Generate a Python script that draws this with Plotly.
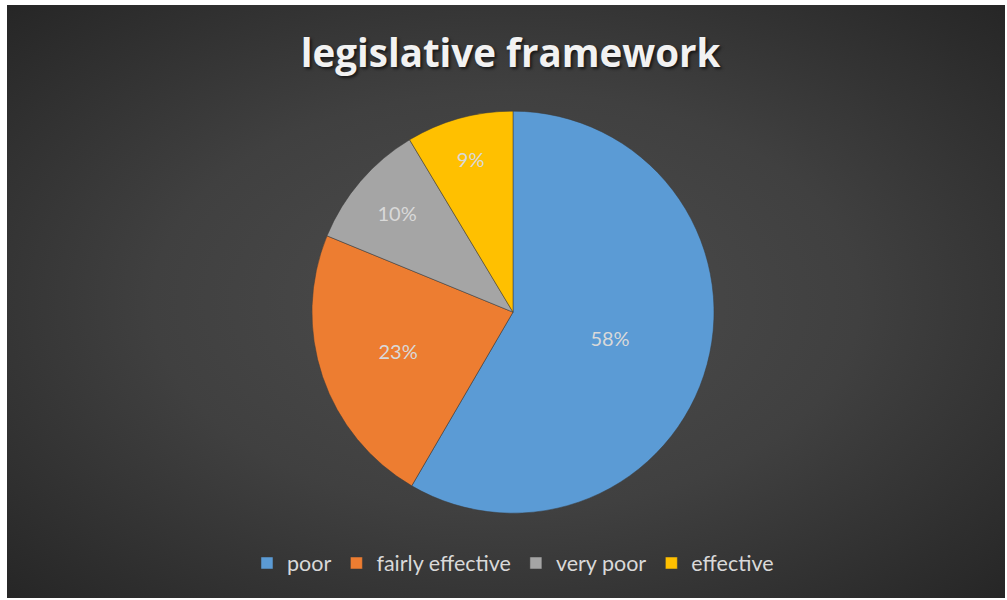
import plotly.graph_objects as go

categories = ["poor", "fairly effective", "very poor", "effective"]
shares = [58.4, 22.8, 10.2, 8.6]
colors = ["#5b9bd5", "#ed7d31", "#a5a5a5", "#ffc000"]
title_text = "legislative framework"

fig = go.Figure()

# background with radial gradient (extended so the gradient reaches the corners)
ext = 0.207
fig.add_trace(go.Scatter(
    x=[-ext, 1 + ext, 1 + ext, -ext, -ext], y=[-ext, -ext, 1 + ext, 1 + ext, -ext],
    mode="lines", line=dict(width=0),
    fill="toself",
    fillgradient=dict(type="radial", colorscale=[[0, "#4d4d4d"], [0.5, "#404040"], [1, "#262626"]]),
    hoverinfo="skip", showlegend=False,
))

fig.add_trace(go.Pie(
    labels=categories, values=shares,
    sort=False, direction="clockwise", rotation=0,
    marker=dict(colors=colors, line=dict(color="#3a3a3a", width=0.5)),
    texttemplate="%{percent:.0%}",
    textposition="inside",
    insidetextorientation="horizontal",
    textfont=dict(family="Lato", size=20, color="#d9d9d9"),
    domain=dict(x=[0.257, 0.757], y=[0.143, 0.821]),
    showlegend=True,
))

fig.update_layout(
    width=1007, height=600,
    margin=dict(l=7, r=2, t=5, b=2),
    paper_bgcolor="white",
    plot_bgcolor="rgba(0,0,0,0)",
    xaxis=dict(range=[0, 1], visible=False, fixedrange=True),
    yaxis=dict(range=[0, 1], visible=False, fixedrange=True),
    title=dict(
        text=title_text, x=0.507, xanchor="center", y=0.91, yanchor="middle",
        font=dict(family="Open Sans", size=38.5, color="#f2f2f2", weight="bold",
                  shadow="2px 2px 3px rgba(0,0,0,0.6)"),
    ),
    legend=dict(
        orientation="h", x=0.507, xanchor="center", y=0.059, yanchor="middle",
        font=dict(family="Lato", size=21.5, color="#d9d9d9"),
        bgcolor="rgba(0,0,0,0)", itemclick=False, itemdoubleclick=False,
    ),
)

fig.write_html("out.html", config={"displayModeBar": False},
               post_script="document.body.style.margin='0';")
